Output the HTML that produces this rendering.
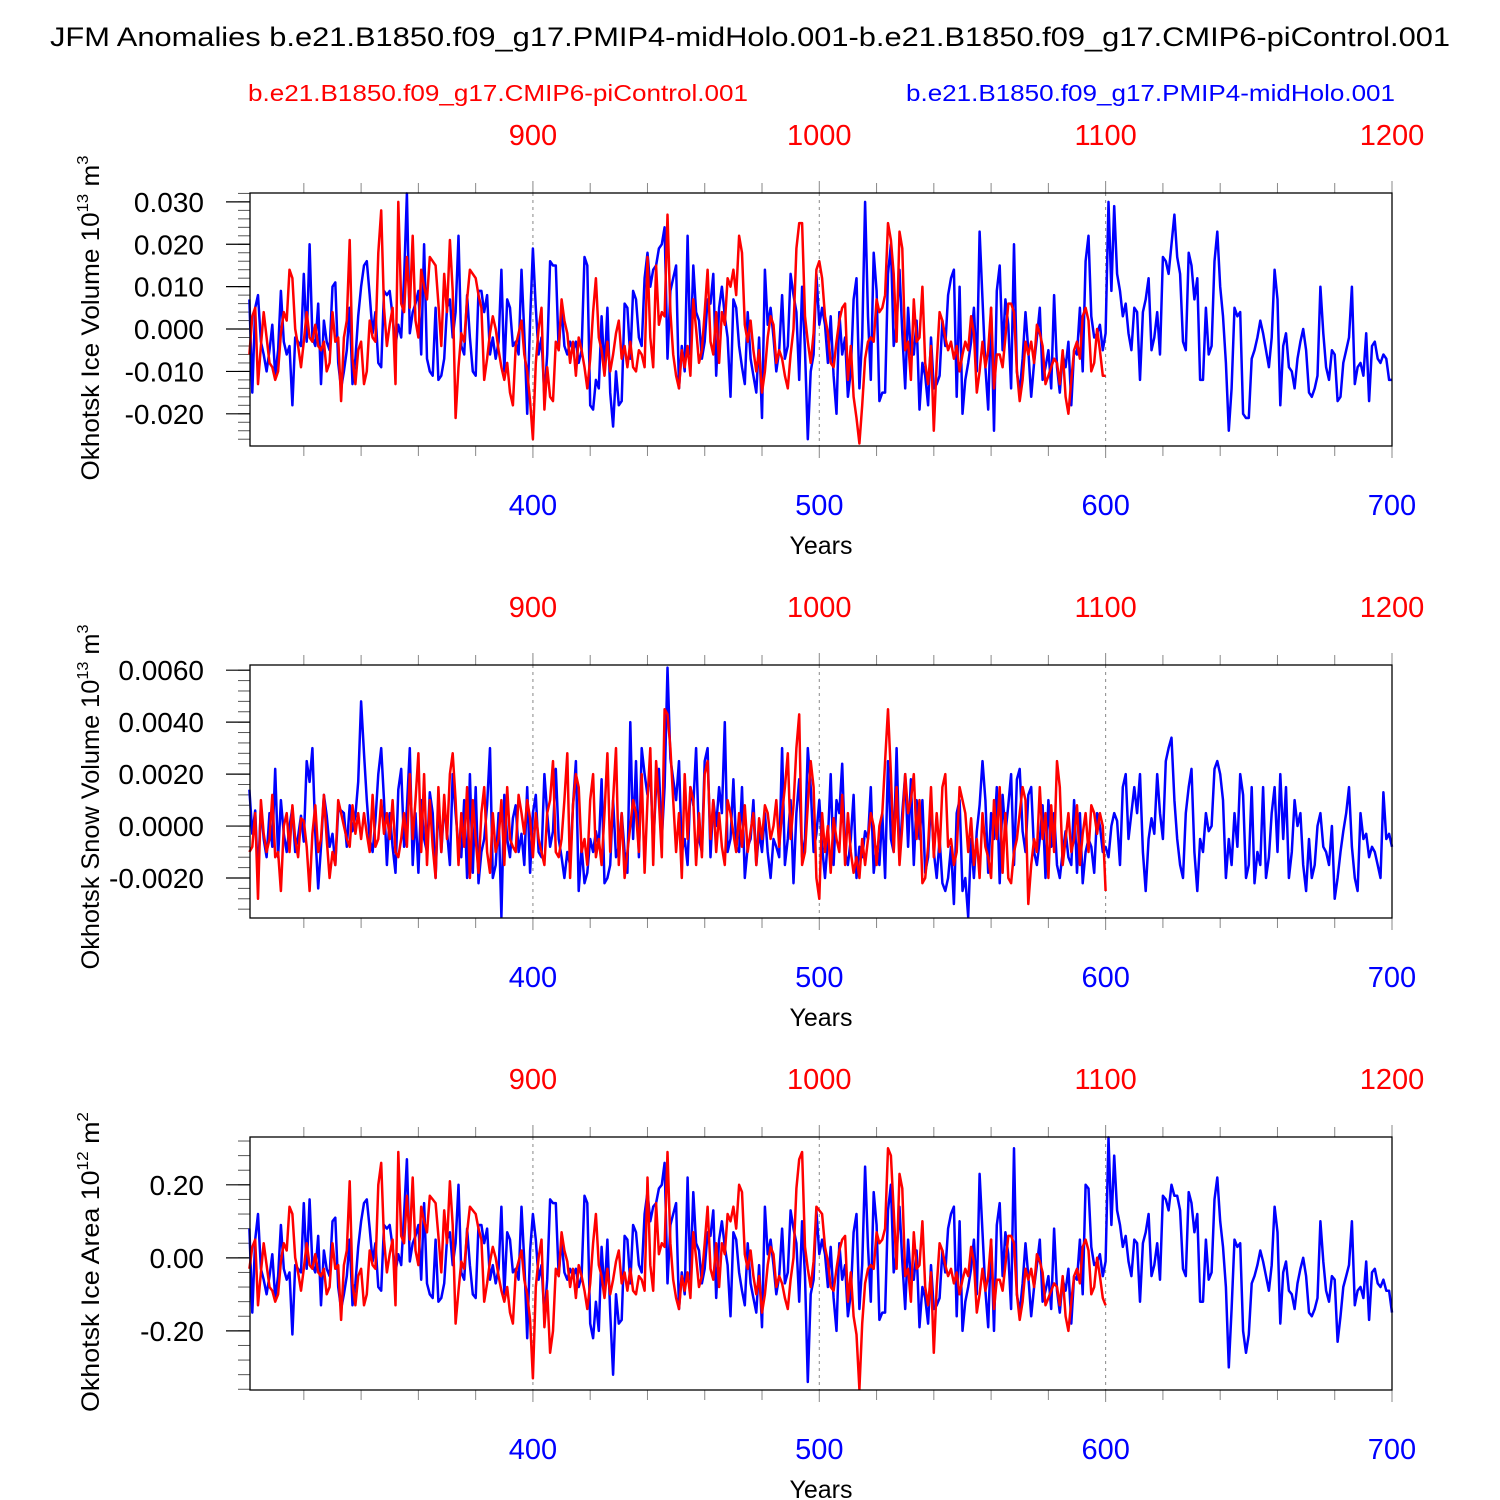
<!DOCTYPE html>
<html><head><meta charset="utf-8">
<style>
html,body{margin:0;padding:0;background:#fff;}
svg{display:block;font-family:"Liberation Sans",Arial,sans-serif;}
</style></head>
<body>
<svg id="chart" width="1500" height="1500" viewBox="0 0 1500 1500"></svg>
<script>
// Panel 1: ice volume, units 1e-3 (x 1e13 m^3), years 301..
const volBlue=[7,-15,5,8,-3,-6,-10,-5,1,-11,-5,9,-3,-6,-4,-18,-2,-3,-4,13,
-3,20,-2,-4,6,-13,2,-3,-5,10,11,-8,-14,-10,-5,5,-13,-7,3,10,
15,16,8,-1,4,-8,-9,9,8,9,3,-4,1,-2,12,32,-1,4,6,9,
-6,20,-7,-10,-11,5,-12,-11,-7,5,7,-2,4,22,-4,-6,8,-2,-10,-11,
9,9,4,8,-6,-2,-7,-3,14,-10,7,5,-4,-3,-6,14,-1,-20,2,19,
5,-6,-2,-16,-6,16,15,15,-5,5,-4,-6,-3,-5,-3,-8,-5,17,15,-18,
-19,-12,-14,3,-10,5,-15,-23,-10,-18,-17,6,5,-7,9,7,-2,-4,12,18,
10,14,15,19,20,24,-7,9,12,15,-14,-4,-10,22,-6,15,4,2,-7,-3,
7,6,13,-11,5,10,3,-2,-16,7,5,-4,-9,-13,4,-7,-11,-15,-2,-21,
14,1,5,-2,-10,-5,8,-7,-4,13,8,4,-12,10,-5,-26,-10,-6,13,1,
5,1,-8,3,-11,-20,4,-6,-2,-16,-10,7,12,-14,-2,30,3,-12,18,9,
-17,-15,-15,13,20,-4,1,14,-1,-14,5,-6,-6,2,-19,-8,-11,-18,-2,-14,
-13,-11,2,-4,8,12,14,-16,10,-20,-12,-8,-3,5,-10,23,7,-9,-19,5,
-24,9,15,-5,7,1,-14,20,-10,-15,-7,4,-5,-16,-8,-2,5,-12,-9,-5,
-14,8,-9,-15,-6,-9,-3,-18,-5,-6,5,-10,16,22,3,-2,-1,1,-5,-1,
30,9,29,13,9,3,6,-1,-5,5,4,-12,4,7,12,-5,-2,4,-6,17,
16,13,20,27,17,13,-3,-5,18,15,7,12,-12,-12,5,-6,-4,16,23,10,
3,-8,-24,-14,5,3,4,-20,-21,-21,-7,-5,-2,2,-1,-5,-9,-2,14,7,
-18,-4,-1,-9,-10,-14,-7,-3,0,-5,-15,-16,-14,-11,10,-1,-9,-12,-5,-6,
-17,-16,-8,-5,-2,10,-13,-9,-8,-11,-1,-17,-4,-3,-7,-8,-6,-7,-12,-12];
const volRed=[-6,3,5,-13,-4,4,-2,-8,-9,-12,-10,-1,4,2,14,12,0,-4,-9,-3,
4,-2,-3,1,-4,-5,-3,-10,-8,4,-3,-2,-17,-2,2,21,-7,-13,-5,-3,
-13,-10,2,-2,-3,18,28,5,-4,1,5,-13,30,6,4,17,5,22,2,-2,
14,10,7,17,16,15,6,-4,13,4,21,9,-21,-9,-1,-3,7,14,13,12,
8,5,-12,-7,-1,3,0,-5,-9,-12,-8,-15,-18,-4,-1,2,-6,-10,-17,-26,
-8,0,5,-19,-9,-16,-17,-3,-5,7,2,-1,-8,-3,-11,-2,-5,-9,-14,-7,
4,12,-2,-5,-11,-3,-10,-6,-1,2,-7,-4,-9,-3,-9,-10,-5,-6,-9,17,
-2,-9,15,1,4,3,27,4,-6,-11,-14,-5,-9,-4,-11,7,0,-8,-5,4,
14,-3,-6,4,-8,4,1,12,10,14,8,22,18,1,-3,2,-5,-10,-5,-15,
-10,-2,3,1,-8,-5,-7,-11,-14,-6,0,19,25,25,3,-3,-8,-1,14,16,
12,3,-1,-8,-9,-3,2,5,6,-12,-4,-16,-21,-27,-18,-7,-3,-2,-3,7,
4,5,8,25,21,13,-3,23,19,-5,-3,-12,7,-3,-2,10,-8,-13,-4,-24,
-8,4,2,-2,-5,-3,-7,-4,-10,-6,-3,-5,3,-1,-15,-10,-3,-9,-5,5,
-14,-6,-6,-9,-2,6,6,4,-10,-17,-12,-3,-6,-3,-8,1,-1,-4,-13,-11,
-9,-7,-8,-13,-5,-16,-20,-12,-5,-3,-7,3,5,2,-10,-8,0,-5,-11,-11];
// Panel 2: snow volume, units 1e-4
const snowBlue=[14,-3,6,-20,8,-5,-12,5,-8,22,-12,10,-3,-10,0,7,-10,-4,4,-6,
25,17,30,-3,-24,-8,12,4,-8,-3,-15,6,6,5,-8,8,-2,4,17,48,
28,10,-5,-10,2,20,30,10,-15,5,-8,-18,14,22,-8,7,30,-15,5,-18,
10,-5,-10,13,5,-20,10,-10,8,-2,-15,20,5,-8,-12,10,-20,20,-18,15,
-22,-10,-5,8,30,-20,-15,5,-35,12,-5,-12,3,8,-10,-3,-15,15,-18,5,
12,-10,-12,20,5,-8,-2,22,-5,-12,-20,-10,-15,8,25,-25,-8,-22,-18,-5,
-10,-2,-8,18,-22,-20,-15,10,-12,-8,5,-10,-18,40,-5,25,-12,30,20,12,
22,-8,15,22,-5,15,61,26,18,10,25,-10,-5,-15,15,8,30,-5,-10,25,
30,-12,10,0,15,5,40,-10,-5,18,-8,-10,15,-20,-8,-5,10,-15,-2,-10,
5,-10,-20,-5,-8,-12,30,-15,-5,10,-22,5,18,-12,-5,30,15,-10,-3,10,
-8,-20,-5,20,-15,10,5,24,-10,-15,-5,12,-20,-8,-12,-2,-5,15,-18,-8,
-15,5,-20,25,-5,-10,30,-12,5,20,-8,18,-15,10,-5,10,-18,-12,10,-10,
-20,-5,-22,-25,-20,-8,-30,5,10,-25,-20,-35,-5,-20,-2,8,25,10,-18,5,
-5,15,-22,12,-3,8,20,-15,18,22,-2,-10,12,15,-10,-15,-5,8,-20,10,
-8,5,-15,-20,-10,-2,-12,-15,10,-18,5,-22,-10,-5,-8,-18,5,0,-10,-8,
-12,0,5,2,-15,15,20,-5,5,15,5,20,-10,-25,-5,3,-3,20,5,-5,
25,30,34,10,-5,-15,-20,5,15,22,-10,-25,-5,-10,5,-2,0,22,25,20,
10,-20,-5,-15,5,-8,20,12,-20,-15,15,-22,-10,-15,15,-20,-12,5,15,-10,
20,-5,15,-20,-10,10,0,5,-15,-25,-5,-20,-15,0,5,-8,-10,-15,0,-28,
-20,-10,-2,5,15,-8,-20,-25,5,-5,-3,-12,-8,-10,-15,-20,13,-5,-3,-8];
const snowRed=[-10,-8,5,-28,10,-3,-10,-5,12,-12,-10,-25,0,5,-10,8,-5,-12,3,2,
-8,-25,-3,8,-10,-5,12,-5,-20,-10,-15,10,5,0,-5,-8,8,-3,5,-5,
5,-3,-10,12,-8,-5,10,-3,5,-5,10,-10,-12,-5,5,-8,20,-5,10,28,
-10,20,-15,10,-8,-20,15,-10,12,-5,20,28,10,-15,5,-8,15,-20,10,-5,
-18,5,15,-10,-18,5,-10,-5,10,-15,15,-5,-8,-10,12,5,-3,10,3,-12,
5,-5,-10,-15,5,10,25,-10,-12,-5,10,28,-20,8,20,15,-10,-5,-15,10,
20,-12,-5,-15,5,28,-10,10,30,-15,5,-20,-10,0,10,5,-10,20,-18,10,
30,-15,25,10,-12,45,43,30,10,-10,5,-20,20,-5,15,10,-15,5,-12,20,
25,-5,10,-10,5,-8,-15,10,5,-3,-10,5,-8,8,-10,-2,5,-15,3,-5,
8,5,-5,0,10,-8,5,15,28,-5,8,30,43,-15,-10,8,25,15,-20,-28,
5,-10,0,-18,3,-5,-10,12,-15,5,-10,-18,-12,-20,-5,-15,-5,5,0,-15,
0,5,25,45,20,-10,15,-15,0,20,5,10,20,-5,10,-22,-20,-8,15,-12,
5,-10,15,20,-8,-5,-15,-10,15,10,5,-10,3,-15,-5,-20,5,-8,-12,-20,
10,-5,15,-18,5,-20,-22,-10,-5,5,15,10,-30,-15,-5,-10,15,-5,5,-20,
8,-10,25,15,-15,-5,5,-10,-5,8,-15,-3,5,-10,8,5,-3,5,0,-25];
// Panel 3: ice area, units 1e-2 (x 1e12 m^2)
const areaBlue=[8,-15,5,12,-3,-6,-10,-5,1,-11,-5,9,-3,-6,-4,-21,-2,-3,-4,15,
-3,16,-2,-4,6,-13,2,-3,-5,10,11,-8,-14,-10,-5,5,-13,-7,3,10,
15,16,8,-1,4,-8,-9,9,8,9,3,-4,1,-2,12,27,-1,4,6,9,
-6,15,-7,-10,-11,5,-12,-11,-7,5,7,-2,4,20,-4,-6,8,-2,-10,-11,
9,9,4,8,-6,-2,-7,-3,14,-10,7,5,-4,-3,-6,14,-1,-22,2,12,
5,-6,-2,-16,-6,16,15,15,-5,5,-4,-6,-3,-5,-3,-8,-5,17,15,-18,
-22,-12,-20,3,-10,5,-15,-32,-10,-18,-17,6,5,-7,9,7,-2,-4,12,18,
10,14,15,19,20,26,-7,9,12,15,-14,-4,-10,22,-6,18,4,2,-7,-3,
7,6,13,-11,5,10,3,-2,-16,7,5,-4,-9,-13,4,-7,-11,-15,-2,-19,
14,1,5,-2,-10,-5,8,-7,-4,13,8,4,-12,10,-5,-34,-10,-6,13,1,
5,1,-8,3,-11,-20,4,-6,-2,-16,-10,7,12,-14,-2,25,3,-12,18,9,
-17,-15,-15,13,20,-4,1,14,-1,-14,5,-6,-6,2,-19,-8,-11,-18,-2,-14,
-13,-11,2,-4,8,12,14,-16,10,-20,-12,-8,-3,5,-10,23,7,-9,-19,5,
-20,9,15,-5,7,1,-14,30,-10,-15,-7,4,-5,-16,-8,-2,5,-12,-9,-5,
-14,8,-9,-15,-6,-9,-3,-18,-5,-6,5,-10,20,19,3,-2,-1,1,-5,-1,
33,9,28,13,9,3,6,-1,-5,5,4,-12,4,7,12,-5,-2,4,-6,17,
16,13,20,17,17,13,-3,-5,18,15,7,12,-12,-12,5,-6,-4,16,22,10,
3,-8,-30,-14,5,3,4,-20,-26,-21,-7,-5,-2,2,-1,-5,-9,-2,14,7,
-18,-4,-1,-9,-10,-14,-7,-3,0,-5,-15,-16,-14,-11,10,-1,-9,-12,-5,-6,
-23,-16,-8,-5,-2,10,-13,-9,-8,-11,-1,-17,-4,-3,-7,-8,-6,-9,-9,-15];
const areaRed=[-3,3,5,-13,-4,4,-2,-8,-9,-12,-10,-1,4,2,14,12,0,-4,-9,-3,
4,-2,-3,1,-4,-5,-3,-10,-8,4,-3,-2,-17,-2,2,21,-7,-13,-5,-3,
-13,-10,2,-2,-3,20,26,5,-4,1,5,-13,29,6,4,17,5,22,2,-2,
14,10,7,17,16,15,6,-4,13,4,21,9,-18,-9,-1,-3,7,14,13,12,
8,5,-12,-7,-1,3,0,-5,-9,-12,-8,-15,-18,-4,-1,2,-6,-10,-17,-33,
-8,0,5,-19,-9,-26,-20,-3,-5,7,2,-1,-8,-3,-11,-2,-5,-9,-14,-7,
4,12,-2,-5,-11,-3,-10,-6,-1,2,-7,-4,-9,-3,-9,-10,-5,-6,-9,22,
-2,-9,15,1,4,3,29,4,-6,-11,-14,-5,-9,-4,-11,7,0,-8,-5,4,
14,-3,-6,4,-8,4,1,12,10,14,8,20,18,1,-3,2,-5,-10,-5,-15,
-10,-2,3,1,-8,-5,-7,-11,-14,-6,0,19,27,29,3,-3,-8,-1,14,13,
12,3,-1,-8,-9,-3,2,5,6,-12,-4,-16,-21,-36,-18,-7,-3,-2,-3,7,
4,5,8,30,28,13,-3,23,19,-5,-3,-12,7,-3,-2,10,-8,-13,-4,-26,
-8,4,2,-2,-5,-3,-7,-4,-10,-6,-3,-5,3,-1,-15,-10,-3,-9,-5,5,
-14,-6,-6,-9,-2,6,6,4,-10,-17,-12,-3,-6,-3,-8,1,-1,-4,-13,-11,
-9,-7,-8,-13,-5,-16,-20,-12,-5,-3,-7,3,5,2,-10,-8,0,-5,-11,-13];
const startYear=301;
const bottomTicks=[400,500,600,700];
const topTickLabels=["900","1000","1100","1200"];
const volTicks=[0.030,0.020,0.010,0.000,-0.010,-0.020];
const volTickLabels=["0.030","0.020","0.010","0.000","-0.010","-0.020"];
const snowTicks=[0.006,0.004,0.002,0,-0.002];
const snowTickLabels=["0.0060","0.0040","0.0020","0.0000","-0.0020"];
const areaTicks=[0.2,0,-0.2];
const areaTickLabels=["0.20","0.00","-0.20"];

const NS="http://www.w3.org/2000/svg";
const svg=document.getElementById('chart');
function mk(tag,attrs,parent){const e=document.createElementNS(NS,tag);for(const k in attrs)e.setAttribute(k,attrs[k]);(parent||svg).appendChild(e);return e;}
function widen(el,k){const L=el.getComputedTextLength();el.setAttribute('textLength',(L*k).toFixed(1));el.setAttribute('lengthAdjust','spacingAndGlyphs');}
const X0=250,X1=1392,YR0=301.2,YR1=700;
function xs(yr){return X0+(yr-YR0)/(YR1-YR0)*(X1-X0);}

let t=mk('text',{x:750,y:46,'text-anchor':'middle','font-size':27,fill:'#000',textLength:1400,lengthAdjust:'spacingAndGlyphs'});
t.textContent="JFM Anomalies b.e21.B1850.f09_g17.PMIP4-midHolo.001-b.e21.B1850.f09_g17.CMIP6-piControl.001";


t=mk('text',{x:248,y:101,'font-size':23,fill:'#ff0000',textLength:500,lengthAdjust:'spacingAndGlyphs'});
t.textContent="b.e21.B1850.f09_g17.CMIP6-piControl.001";


t=mk('text',{x:906,y:101,'font-size':23,fill:'#0000ff',textLength:489,lengthAdjust:'spacingAndGlyphs'});
t.textContent="b.e21.B1850.f09_g17.PMIP4-midHolo.001";



function panel(name,top,ymax,ymin,scale,ticks,tickLabels,minorStep,blue,red,titleMain,titleExp,titleUnit,titleCy,titleLen){
  const bot=top+253;
  const ys=v=>top+(ymax-v)/(ymax-ymin)*(bot-top);
  const g=mk('g',{});
  
  
  [400,500,600].forEach(yr=>{
    const l=mk('line',{x1:xs(yr),x2:xs(yr),y1:top,y2:bot,stroke:'#888','stroke-width':1,'stroke-dasharray':'3,4'},g);
    
    
  });
  const lo=Math.ceil(ymin/minorStep-1e-6),hi=Math.floor(ymax/minorStep+1e-6);
  for(let i=lo;i<=hi;i++){const y=ys(i*minorStep);
    mk('line',{x1:X0,x2:X0-12,y1:y,y2:y,stroke:'#555','stroke-width':1},g);}
  ticks.forEach((v,i)=>{const y=ys(v);
    mk('line',{x1:X0,x2:X0-24,y1:y,y2:y,stroke:'#000','stroke-width':1.2},g);
    const tl=mk('text',{x:204,y:y+10,'text-anchor':'end','font-size':28,fill:'#000'},g);
    tl.textContent=tickLabels[i];
    
    
  });
  for(let yr=320;yr<=700;yr+=20){const x=xs(yr);const L=(yr%100===0)?12:10;
    mk('line',{x1:x,x2:x,y1:bot,y2:bot+L,stroke:'#888','stroke-width':1},g);
    mk('line',{x1:x,x2:x,y1:top,y2:top-L,stroke:'#888','stroke-width':1},g);}
  bottomTicks.forEach((yr,i)=>{
    const b=mk('text',{x:xs(yr),y:bot+69,'text-anchor':'middle','font-size':29,fill:'#0000ff'},g);
    b.textContent=String(yr);
    
    
    const tp=mk('text',{x:xs(yr),y:top-48,'text-anchor':'middle','font-size':29,fill:'#ff0000'},g);
    tp.textContent=topTickLabels[i];
    
    
  });
  const xt=mk('text',{x:821,y:bot+108,'text-anchor':'middle','font-size':25,fill:'#000'},g);
  xt.textContent="Years";
  
  
  const yt=mk('text',{transform:`translate(99,${titleCy}) rotate(-90)`,'text-anchor':'middle','font-size':25,fill:'#000',textLength:titleLen,lengthAdjust:'spacingAndGlyphs'},g);
  const s1=mk('tspan',{},yt);s1.textContent=titleMain+" 10";
  const s2=mk('tspan',{dy:-11,'font-size':16},yt);s2.textContent=titleExp;
  const s3=mk('tspan',{dy:11},yt);s3.textContent=" "+titleUnit[0];
  const s4=mk('tspan',{dy:-11,'font-size':16},yt);s4.textContent=titleUnit[1];
  
  
  function line(arr,color,nm){
    const pts=arr.map((v,i)=>xs(startYear+i).toFixed(1)+','+ys(v*scale).toFixed(1)).join(' ');
    const p=mk('polyline',{points:pts,fill:'none',stroke:color,'stroke-width':2.5,'stroke-linejoin':'round'},g);
    
    
  }
  line(blue,'#0000ff','midholo-series');
  line(red,'#ff0000','control-series');
  const fr=mk('rect',{x:X0,y:top,width:X1-X0,height:bot-top,fill:'none',stroke:'#000','stroke-width':1.3},g);
  
  
}
panel('ice-volume',193,0.0321,-0.0276,0.001,volTicks,volTickLabels,0.002,volBlue,volRed,"Okhotsk Ice Volume","13",["m","3"],318,325);
panel('snow-volume',665,0.0062,-0.00354,0.0001,snowTicks,snowTickLabels,0.0004,snowBlue,snowRed,"Okhotsk Snow Volume","13",["m","3"],797,345);
panel('ice-area',1137,0.331,-0.362,0.01,areaTicks,areaTickLabels,0.04,areaBlue,areaRed,"Okhotsk Ice Area","12",["m","2"],1262,300);
</script>
</body></html>
